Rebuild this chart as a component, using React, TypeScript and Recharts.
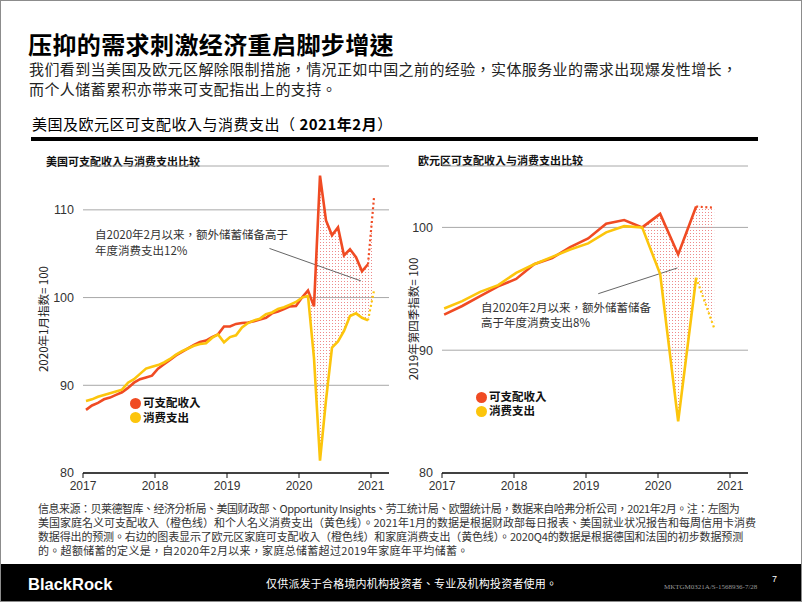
import { ComposedChart, Line, Area, XAxis, YAxis, CartesianGrid, ReferenceLine } from 'recharts'
import type { CSSProperties, ReactNode } from 'react'

const RED = '#f04b23'
const YELLOW = '#fcc50c'
const CJK = '"Noto Sans CJK TC", "Noto Sans CJK SC", sans-serif'
const NUM = '"Liberation Sans", Arial, sans-serif'

// 美国：2017年1月 - 2020年12月（月度，2020年1月 = 100）
const usIncome = [
  87.2, 87.7, 88.0, 88.4, 88.6, 88.9, 89.2, 89.7, 90.3, 90.7, 90.9, 91.1,
  91.9, 92.4, 92.9, 93.4, 93.8, 94.2, 94.6, 94.95, 95.1, 95.5, 95.8, 96.7,
  96.7, 97.0, 97.1, 97.15, 97.3, 97.5, 97.7, 98.2, 98.4, 98.7, 99.0, 99.05,
  100.0, 100.8, 99.0, 113.9, 108.8, 107.1, 108.0, 104.8, 105.5, 104.6, 103.0, 103.8,
]
const usSpending = [
  88.2, 88.4, 88.7, 88.9, 89.1, 89.3, 89.5, 90.3, 90.7, 91.3, 91.9, 92.1,
  92.3, 92.6, 93.0, 93.5, 93.9, 94.2, 94.5, 94.7, 94.8, 95.4, 95.8, 94.9,
  95.5, 95.7, 96.6, 97.1, 97.4, 97.6, 98.1, 98.3, 98.7, 98.9, 99.2, 99.5,
  100.0, 100.2, 93.1, 81.4, 88.3, 94.3, 95.0, 96.2, 97.9, 98.2, 97.7, 97.4,
]
// 2021年1月预测值
const usIncomeForecast = 111.4
const usSpendingForecast = 100.8

// 欧元区：2017Q1 - 2020Q3（季度，2019Q4 = 100）
const euIncome = [92.9, 93.6, 94.4, 95.2, 95.8, 97.0, 97.5, 98.4, 99.1, 100.3, 100.6, 100.0, 101.1, 97.8, 101.7]
const euSpending = [93.4, 94.0, 94.75, 95.3, 96.3, 97.0, 97.6, 98.2, 98.7, 99.6, 100.1, 100.0, 96.2, 84.2, 95.9]
// 2020Q4预测值
const euIncomeForecast = 101.6
const euSpendingForecast = 91.8

const yearTicks = [2017, 2018, 2019, 2020, 2021]
const usValueTicks = [80, 90, 100, 110]
const euValueTicks = [80, 90, 100]

// 注释引线（数据坐标）
const usNoteLine = [{ x: 2019.59, y: 105.6 }, { x: 2020.86, y: 101.9 }]
const euNoteLine = [{ x: 2019.17, y: 94.6 }, { x: 2020.27, y: 96.7 }]

type Row = {
  t: number
  inc?: number
  spd?: number
  incF?: number
  spdF?: number
  band?: [number, number]
}

function buildRows(
  income: number[],
  spending: number[],
  incF: number,
  spdF: number,
  toTime: (i: number) => number,
  bandFrom: number,
): Row[] {
  const rows: Row[] = income.map((inc, i) => ({
    t: toTime(i),
    inc,
    spd: spending[i],
    band: i >= bandFrom ? [spending[i], inc] : undefined,
  }))
  const last = rows[rows.length - 1]
  last.incF = last.inc
  last.spdF = last.spd
  rows.push({ t: toTime(income.length), incF, spdF, band: [spdF, incF] })
  return rows
}

const usRows = buildRows(usIncome, usSpending, usIncomeForecast, usSpendingForecast, (i) => 2017 + (i + 0.5) / 12, 37)
const euRows = buildRows(euIncome, euSpending, euIncomeForecast, euSpendingForecast, (i) => 2017 + i / 4 + 0.03, 11)

function Txt({ x, y, style, children }: { x: number; y: number; style?: CSSProperties; children: ReactNode }) {
  return (
    <div
      style={{
        position: 'absolute',
        left: x,
        top: y,
        transform: 'translateY(-50%)',
        whiteSpace: 'nowrap',
        lineHeight: 1,
        fontFamily: CJK,
        color: '#222',
        ...style,
      }}
    >
      {children}
    </div>
  )
}

function Legend({ x, y, gap }: { x: number; y: number; gap: number }) {
  const item = (color: string, label: string, cy: number) => (
    <div key={label}>
      <div style={{ position: 'absolute', left: x - 5.5, top: cy - 5.5, width: 11, height: 11, borderRadius: '50%', background: color }} />
      <Txt x={x + 8} y={cy} style={{ fontSize: 11.5, fontWeight: 700, color: '#111' }}>{label}</Txt>
    </div>
  )
  return (
    <>
      {item(RED, '可支配收入', y)}
      {item(YELLOW, '消费支出', y + gap)}
    </>
  )
}

function SavingsChart({
  rows,
  yDomain,
  yTicks,
  yWidth,
  rightMargin,
  patternId,
  noteLine,
}: {
  rows: Row[]
  yDomain: [number, number]
  yTicks: number[]
  yWidth: number
  rightMargin: number
  patternId: string
  noteLine: { x: number; y: number }[]
}) {
  return (
    <ComposedChart width={400} height={350} data={rows} margin={{ top: 15, right: rightMargin, left: 0, bottom: 0 }}>
      <defs>
        <pattern id={patternId} width="3" height="3" patternUnits="userSpaceOnUse">
          <rect x="1" y="1" width="1" height="1" fill="#ee8a8a" />
        </pattern>
      </defs>
      <CartesianGrid vertical={false} stroke="#a8a8a8" strokeWidth={1} />
      <XAxis
        type="number"
        dataKey="t"
        domain={[2017, 2021.25]}
        ticks={yearTicks}
        interval={0}
        allowDataOverflow
        height={28}
        tickSize={5}
        tickMargin={3}
        stroke="#111"
        axisLine={{ stroke: '#111', strokeWidth: 1.5 }}
        tick={{ fontSize: 12, fill: '#333', fontFamily: NUM }}
      />
      <YAxis
        type="number"
        domain={yDomain}
        ticks={yTicks}
        interval={0}
        allowDataOverflow
        width={yWidth}
        axisLine={false}
        tickLine={false}
        tickSize={0}
        tickMargin={9}
        tick={{ fontSize: 12.5, fill: '#333', fontFamily: NUM }}
      />
      <Area
        type="linear"
        dataKey="band"
        stroke="none"
        fill={`url(#${patternId})`}
        fillOpacity={1}
        isAnimationActive={false}
        activeDot={false}
      />
      <ReferenceLine segment={noteLine} stroke="#555" strokeWidth={0.9} />
      <Line type="linear" dataKey="inc" stroke={RED} strokeWidth={2.6} dot={false} isAnimationActive={false} />
      <Line type="linear" dataKey="spd" stroke={YELLOW} strokeWidth={2.6} dot={false} isAnimationActive={false} />
      <Line type="linear" dataKey="incF" stroke={RED} strokeWidth={2.2} strokeDasharray="2 2.6" dot={false} isAnimationActive={false} />
      <Line type="linear" dataKey="spdF" stroke={YELLOW} strokeWidth={2.2} strokeDasharray="2 2.6" dot={false} isAnimationActive={false} />
    </ComposedChart>
  )
}

const sourceLines = [
  '信息来源：贝莱德智库、经济分析局、美国财政部、Opportunity Insights、劳工统计局、欧盟统计局，数据来自哈弗分析公司，2021年2月。注：左图为',
  '美国家庭名义可支配收入（橙色线）和个人名义消费支出（黄色线）。2021年1月的数据是根据财政部每日报表、美国就业状况报告和每周信用卡消费',
  '数据得出的预测。右边的图表显示了欧元区家庭可支配收入（橙色线）和家庭消费支出（黄色线）。2020Q4的数据是根据德国和法国的初步数据预测',
  '的。超额储蓄的定义是，自2020年2月以来，家庭总储蓄超过2019年家庭年平均储蓄。',
]
const sourceSpacing = [-0.5, 0, -0.15, 0.3]

export default function App() {
  return (
    <div
      lang="zh-TW"
      style={{
        position: 'absolute',
        left: 0,
        top: 0,
        width: 802,
        height: 602,
        background: '#fff',
        overflow: 'hidden',
        border: '1px solid #8c8c8c',
        boxSizing: 'border-box',
      }}
    >
      <Txt x={27} y={43} style={{ fontSize: 24, fontWeight: 700, color: '#000', letterSpacing: 0.4 }}>
        压抑的需求刺激经济重启脚步增速
      </Txt>
      <Txt x={28} y={67} style={{ fontSize: 15, color: '#222', letterSpacing: 0.4 }}>
        我们看到当美国及欧元区解除限制措施，情况正如中国之前的经验，实体服务业的需求出现爆发性增长，
      </Txt>
      <Txt x={28} y={87} style={{ fontSize: 15, color: '#222', letterSpacing: 0.4 }}>而个人储蓄累积亦带来可支配指出上的支持。</Txt>
      <Txt x={31} y={122} style={{ fontSize: 15, color: '#000', letterSpacing: 0.5 }}>
        美国及欧元区可支配收入与消费支出（ <b>2021年2月</b>）
      </Txt>
      <div style={{ position: 'absolute', left: 30, top: 136, width: 727, height: 4, background: '#000' }} />

      <Txt x={45} y={160} style={{ fontSize: 11, fontWeight: 700, color: '#111' }}>美国可支配收入与消费支出比较</Txt>
      <Txt x={417} y={159} style={{ fontSize: 11, fontWeight: 700, color: '#111' }}>欧元区可支配收入与消费支出比较</Txt>

      <div style={{ position: 'absolute', left: 0, top: 150 }}>
        <SavingsChart
          rows={usRows}
          yDomain={[80, 115]}
          yTicks={usValueTicks}
          yWidth={82}
          rightMargin={12}
          patternId="usDots"
          noteLine={usNoteLine}
        />
      </div>
      <div style={{ position: 'absolute', left: 400, top: 150 }}>
        <SavingsChart
          rows={euRows}
          yDomain={[80, 105]}
          yTicks={euValueTicks}
          yWidth={41}
          rightMargin={53}
          patternId="euDots"
          noteLine={euNoteLine}
        />
      </div>

      <div
        style={{
          position: 'absolute',
          left: 43,
          top: 318,
          transform: 'translate(-50%, -50%) rotate(-90deg)',
          whiteSpace: 'nowrap',
          fontFamily: CJK,
          fontSize: 11.5,
          color: '#222',
          lineHeight: 1,
        }}
      >
        2020年1月指数= 100
      </div>
      <div
        style={{
          position: 'absolute',
          left: 413,
          top: 318,
          transform: 'translate(-50%, -50%) rotate(-90deg)',
          whiteSpace: 'nowrap',
          fontFamily: CJK,
          fontSize: 11.5,
          color: '#222',
          lineHeight: 1,
        }}
      >
        2019年第四季指数= 100
      </div>

      <Txt x={94} y={234} style={{ fontSize: 11.5, color: '#333' }}>自2020年2月以来，额外储蓄储备高于</Txt>
      <Txt x={94} y={250} style={{ fontSize: 11.5, color: '#333' }}>年度消费支出12%</Txt>
      <Txt x={480} y={307} style={{ fontSize: 11.5, color: '#333' }}>自2020年2月以来，额外储蓄储备</Txt>
      <Txt x={480} y={322} style={{ fontSize: 11.5, color: '#333' }}>高于年度消费支出8%</Txt>

      <Legend x={134} y={402} gap={14.5} />
      <Legend x={480} y={396} gap={14} />

      {sourceLines.map((line, i) => (
        <Txt key={i} x={37} y={507 + i * 14} style={{ fontSize: 11, color: '#333', letterSpacing: sourceSpacing[i] }}>
          {line}
        </Txt>
      ))}

      <div style={{ position: 'absolute', left: 0, top: 563, width: 802, height: 39, background: '#000' }} />
      <Txt x={27} y={583} style={{ fontFamily: NUM, fontSize: 16.5, fontWeight: 700, color: '#fff' }}>BlackRock</Txt>
      <Txt x={265} y={582} style={{ fontSize: 11, letterSpacing: 0.2, color: '#fff' }}>
        仅供派发于合格境内机构投资者、专业及机构投资者使用。
      </Txt>
      <Txt x={663} y={586} style={{ fontFamily: '"Liberation Serif", serif', fontSize: 7, color: '#9a9a9a' }}>
        MKTGM0321A/S-1568936-7/28
      </Txt>
      <Txt x={771} y={578} style={{ fontFamily: NUM, fontSize: 9, color: '#fff' }}>7</Txt>
    </div>
  )
}
